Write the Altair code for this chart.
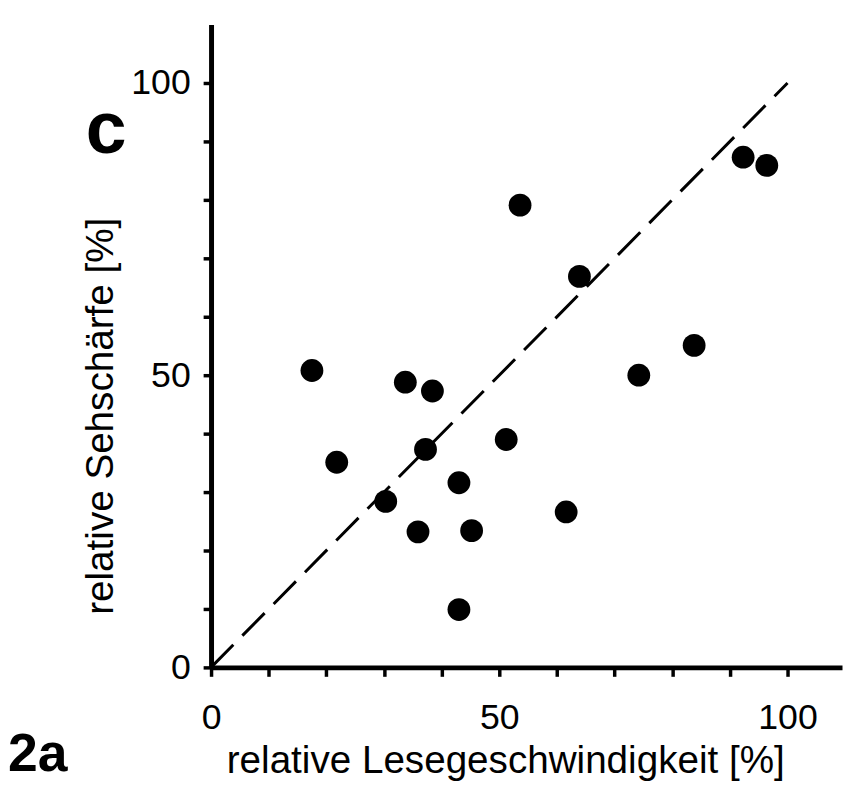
import altair as alt
import pandas as pd

# Data
x_speed = [17.5, 21.8, 30.3, 33.7, 38.4, 37.2, 35.9, 43.0, 45.2, 43.0,
           51.2, 53.6, 63.9, 61.6, 74.2, 83.8, 92.3, 96.4]
y_acuity = [50.8, 35.1, 28.4, 48.8, 47.3, 37.3, 23.2, 31.6, 23.4, 9.9,
            39.0, 79.1, 66.9, 26.6, 50.0, 55.1, 87.3, 85.9]
diag = [0, 100]
tick_values = [0, 10, 20, 30, 40, 50, 60, 70, 80, 90, 100]

pts = pd.DataFrame({"x": x_speed, "y": y_acuity})
line_df = pd.DataFrame({"x": diag, "y": diag})

FONT = "Liberation Sans"
xscale = alt.Scale(domain=[0, 109.45], nice=False, zero=False)
yscale = alt.Scale(domain=[0, 110], nice=False, zero=False)

xaxis = alt.Axis(
    values=tick_values, labelExpr="datum.value % 50 == 0 ? datum.label : ''",
    title="relative Lesegeschwindigkeit [%]", grid=False,
    domainColor="black", domainWidth=5, tickColor="black", tickWidth=3.5, tickSize=9,
    labelFont=FONT, labelFontSize=36, labelColor="black", labelPadding=25,
    labelOverlap=False, labelFlush=False,
    titleFont=FONT, titleFontSize=39, titleFontWeight="normal", titleColor="black",
    titleX=297, titleY=106, titleAlign="center", titleBaseline="alphabetic",
    titleAnchor="start",
)
yaxis = alt.Axis(
    values=tick_values, labelExpr="datum.value % 50 == 0 ? datum.label : ''",
    title="relative Sehschärfe [%]", grid=False,
    domainColor="black", domainWidth=5, tickColor="black", tickWidth=3.5, tickSize=8,
    labelFont=FONT, labelFontSize=36, labelColor="black", labelPadding=13,
    labelOverlap=False, labelFlush=False,
    titleFont=FONT, titleFontSize=39, titleFontWeight="normal", titleColor="black",
    titleX=-99, titleY=395, titleAngle=270, titleAlign="center",
    titleBaseline="alphabetic", titleAnchor="start",
)

line = alt.Chart(line_df).mark_line(
    color="black", strokeWidth=3, strokeDash=[32, 13]
).encode(
    x=alt.X("x:Q", scale=xscale, axis=xaxis),
    y=alt.Y("y:Q", scale=yscale, axis=yaxis),
)

points = alt.Chart(pts).mark_circle(
    color="black", opacity=1, size=530
).encode(
    x=alt.X("x:Q", scale=xscale),
    y=alt.Y("y:Q", scale=yscale),
)

c_label = alt.Chart(pd.DataFrame({"t": ["c"]})).mark_text(
    font=FONT, fontSize=74, fontWeight="bold", color="black",
    align="center", baseline="middle",
).encode(x=alt.value(-106), y=alt.value(108), text="t:N")

fig_label = alt.Chart(pd.DataFrame({"t": ["2a"]})).mark_text(
    font=FONT, fontSize=54, fontWeight="bold", color="black",
    align="left", baseline="alphabetic",
).encode(x=alt.value(-205), y=alt.value(754), text="t:N")

chart = alt.layer(line, points, c_label, fig_label).properties(
    width=637, height=649,
    autosize=alt.AutoSizeParams(type="none"),
    padding={"left": 205, "top": 13, "right": 1, "bottom": 113},
).configure_view(stroke=None)

chart.save("out.html", embed_options={"renderer": "svg", "actions": False})
